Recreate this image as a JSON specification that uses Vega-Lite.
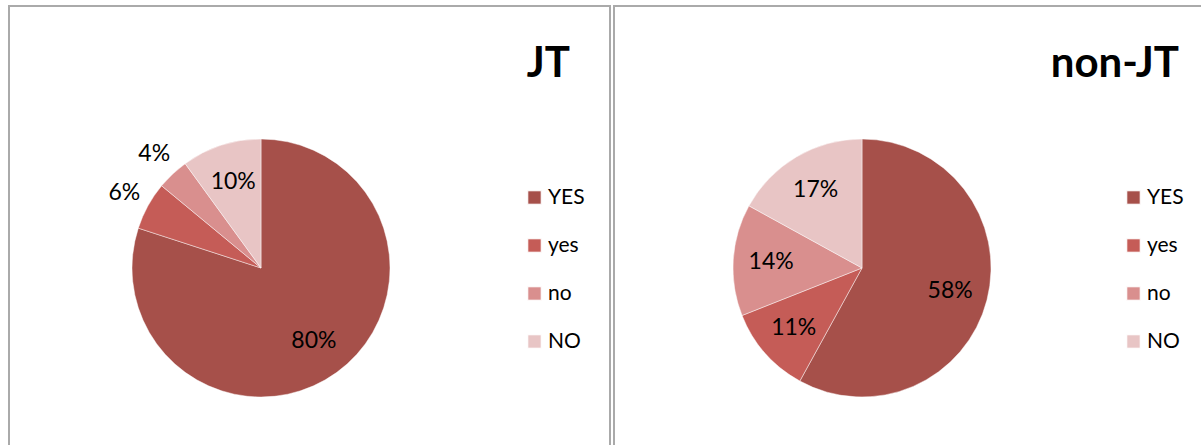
{
  "$schema": "https://vega.github.io/schema/vega-lite/v6.json",
  "padding": {"left": 8, "top": 5, "right": 0, "bottom": 0},
  "background": "white",
  "spacing": 2,
  "datasets": {
    "jt": [
      {"answer": "YES", "share": 0.80, "i": 1},
      {"answer": "yes", "share": 0.06, "i": 2},
      {"answer": "no", "share": 0.04, "i": 3},
      {"answer": "NO", "share": 0.10, "i": 4}
    ],
    "nonjt": [
      {"answer": "YES", "share": 0.58, "i": 1},
      {"answer": "yes", "share": 0.11, "i": 2},
      {"answer": "no", "share": 0.14, "i": 3},
      {"answer": "NO", "share": 0.17, "i": 4}
    ]
  },
  "hconcat": [
    {
      "width": 601,
      "height": 445,
      "view": {"stroke": "#aaaaaa", "strokeWidth": 2},
      "data": {"name": "jt"},
      "title": {"text": "JT", "anchor": "end", "offset": -80, "dx": -40},
      "encoding": {
        "theta": {"field": "share", "type": "quantitative", "stack": true},
        "order": {"field": "i", "type": "quantitative"}
      },
      "layer": [
        {
          "mark": {"type": "arc", "x": 252, "y": 262, "outerRadius": 129, "stroke": "#ffffff", "strokeOpacity": 0.45, "strokeWidth": 1},
          "encoding": {
            "color": {
              "field": "answer", "type": "nominal",
              "scale": {"domain": ["YES", "yes", "no", "NO"], "range": ["#a6504a", "#c55c57", "#d98f8e", "#e8c5c5"]},
              "legend": {"orient": "none", "legendX": 515, "legendY": 181, "title": null, "symbolType": "square", "symbolSize": 180, "symbolStrokeWidth": 1, "labelFontSize": 21, "labelFont": "Lato", "labelColor": "#000000", "rowPadding": 26, "labelOffset": 3}
            }
          }
        },
        {
          "mark": {"type": "text", "x": 252, "y": 262, "radius": 90, "font": "Lato", "fontSize": 23, "color": "#000000"},
          "encoding": {
            "text": {"field": "share", "type": "quantitative", "format": ".0%"},
            "opacity": {"condition": {"test": "datum.share < 0.08", "value": 0}, "value": 1}
          }
        },
        {
          "mark": {"type": "text", "x": 252, "y": 262, "radius": 156, "font": "Lato", "fontSize": 23, "color": "#000000"},
          "encoding": {
            "text": {"field": "share", "type": "quantitative", "format": ".0%"},
            "opacity": {"condition": {"test": "datum.share < 0.08", "value": 1}, "value": 0}
          }
        }
      ]
    },
    {
      "width": 601,
      "height": 445,
      "view": {"stroke": "#aaaaaa", "strokeWidth": 2},
      "data": {"name": "nonjt"},
      "title": {"text": "non-JT", "anchor": "end", "offset": -80, "dx": -36},
      "encoding": {
        "theta": {"field": "share", "type": "quantitative", "stack": true},
        "order": {"field": "i", "type": "quantitative"}
      },
      "layer": [
        {
          "mark": {"type": "arc", "x": 248, "y": 262, "outerRadius": 129, "stroke": "#ffffff", "strokeOpacity": 0.45, "strokeWidth": 1},
          "encoding": {
            "color": {
              "field": "answer", "type": "nominal",
              "scale": {"domain": ["YES", "yes", "no", "NO"], "range": ["#a6504a", "#c55c57", "#d98f8e", "#e8c5c5"]},
              "legend": {"orient": "none", "legendX": 509, "legendY": 181, "title": null, "symbolType": "square", "symbolSize": 180, "symbolStrokeWidth": 1, "labelFontSize": 21, "labelFont": "Lato", "labelColor": "#000000", "rowPadding": 26, "labelOffset": 3}
            }
          }
        },
        {
          "mark": {"type": "text", "x": 248, "y": 262, "radius": 91, "font": "Lato", "fontSize": 23, "color": "#000000"},
          "encoding": {
            "text": {"field": "share", "type": "quantitative", "format": ".0%"}
          }
        }
      ]
    }
  ],
  "resolve": {"scale": {"color": "independent", "theta": "independent"}, "legend": {"color": "independent"}},
  "config": {
    "view": {"stroke": "#aaaaaa", "strokeWidth": 2},
    "title": {"font": "Lato", "fontSize": 42, "fontWeight": "bold", "color": "#000000", "frame": "group"}
  }
}
